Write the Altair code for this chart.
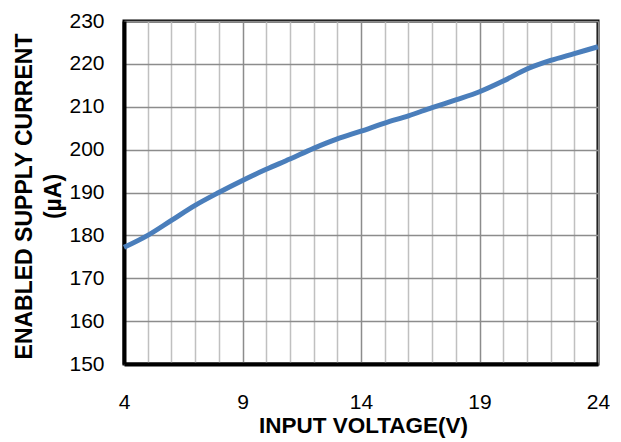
import altair as alt
import pandas as pd

voltage = [4, 5, 6, 7, 8, 9, 10, 11, 12, 13, 14, 15, 16, 17, 18, 19, 20, 21, 22, 23, 24]
current = [177.2, 180.0, 183.5, 187.0, 190.0, 192.8, 195.4, 197.8, 200.3, 202.5, 204.3,
           206.2, 207.9, 209.8, 211.6, 213.5, 216.0, 218.8, 220.8, 222.4, 224.0]
x_grid = list(range(4, 25))
y_ticks = [150, 160, 170, 180, 190, 200, 210, 220, 230]

df = pd.DataFrame({"v": voltage, "i": current})

FONT = "Liberation Sans"

chart = alt.Chart(df).mark_line(
    color="#4A7EBB", strokeWidth=5, interpolate="monotone"
).encode(
    x=alt.X("v:Q", scale=alt.Scale(domain=[4, 24], nice=False, zero=False),
            axis=alt.Axis(
                values=x_grid,
                labelExpr="(datum.value - 4) % 5 == 0 ? datum.label : ''",
                title="INPUT VOLTAGE(V)",
                ticks=False,
                labelPadding=27,
                labelFontSize=21,
                labelFont=FONT,
                labelColor="#000000",
                labelFlush=False,
                titleFont=FONT,
                titleFontSize=22.5,
                titleFontWeight="bold",
                titleColor="#000000",
                titleX=239,
                titleY=61,
                titleBaseline="middle",
                domainColor="#000000",
                domainWidth=4,
                grid=True,
                gridColor={"condition": {"test": "(datum.value - 4) % 5 == 0", "value": "#8C8C8C"},
                           "value": "#C0C0C0"},
                gridWidth=1.5,
            )),
    y=alt.Y("i:Q", scale=alt.Scale(domain=[150, 230], nice=False, zero=False),
            axis=alt.Axis(
                values=y_ticks,
                title=["ENABLED SUPPLY CURRENT", "(µA)"],
                ticks=False,
                labelPadding=20,
                labelFontSize=21,
                labelFont=FONT,
                labelColor="#000000",
                labelFlush=False,
                titleFont=FONT,
                titleFontSize=23,
                titleFontWeight="bold",
                titleColor="#000000",
                titleLineHeight=29,
                titleAngle=270,
                titleAlign="center",
                titleBaseline="middle",
                titleX=-100,
                titleY=175,
                domainColor="#000000",
                domainWidth=4,
                grid=True,
                gridColor="#8C8C8C",
                gridWidth=1.5,
            )),
).properties(
    width=474,
    height=343,
    autosize=alt.AutoSizeParams(type="none"),
    padding={"left": 116, "top": 13, "right": 12, "bottom": 74},
).configure_view(
    stroke="#000000", strokeWidth=3
)

chart.save("out.html", embed_options={"renderer": "svg", "actions": False})
